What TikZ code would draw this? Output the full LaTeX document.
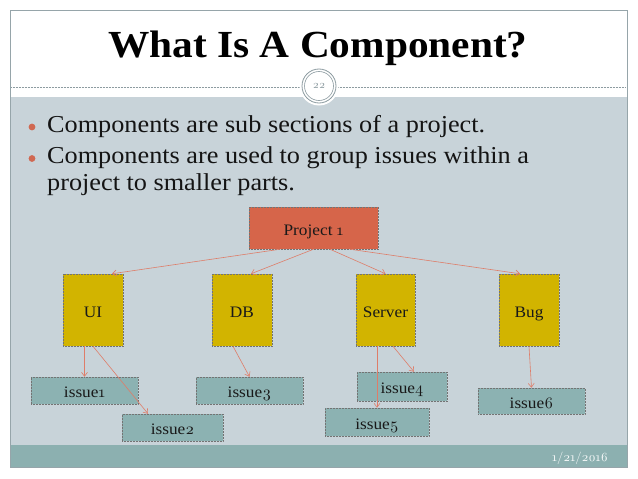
\documentclass[tikz,border=0pt]{standalone}
\usepackage{fontspec}
\setmainfont[FakeStretch=1.08]{Liberation Serif}
\newfontfamily\osf{lmroman10-regular.otf}[Numbers=OldStyle]
\usetikzlibrary{arrows.meta}
\definecolor{framegray}{RGB}{150,165,170}
\definecolor{bodybg}{RGB}{200,211,217}
\definecolor{bandteal}{RGB}{140,176,176}
\definecolor{issuefill}{RGB}{140,178,178}
\definecolor{projfill}{RGB}{214,101,74}
\definecolor{compfill}{RGB}{210,180,0}
\definecolor{linkcol}{RGB}{222,125,105}
\definecolor{bulletcol}{RGB}{208,104,82}
\definecolor{ringgray}{RGB}{140,155,160}
\tikzset{
  boxbase/.style={draw=black!55, densely dotted, line width=0.5pt, inner sep=0pt,
    text height=14pt, text depth=0pt,
    font=\fontsize{16}{17}\selectfont, text=black!90},
  projbox/.style={boxbase, fill=projfill, minimum width=129pt, minimum height=42pt},
  compbox/.style={boxbase, fill=compfill, minimum width=60pt, minimum height=72pt},
  issuebox/.style={boxbase, fill=issuefill, minimum height=27pt},
  link/.style={draw=linkcol, line width=0.6pt, -{Straight Barb[length=4pt,width=6pt]}},
  bullettext/.style={anchor=base west, inner sep=0pt, font=\fontsize{24.3}{27}\selectfont, text=black!92},
}
\begin{document}
\begin{tikzpicture}[x=1pt,y=-1pt]
\useasboundingbox (0,0) rectangle (638,479);
% slide background
\fill[white] (0,0) rectangle (638,479);
\fill[bodybg] (10,97) rectangle (627,445);
\fill[bandteal] (10,445) rectangle (627,467);
\draw[framegray, line width=0.8pt] (10,10) rectangle (627,467);
% title
\node[anchor=base, inner sep=0pt, font=\fontsize{38.3}{44}\selectfont\bfseries] (title) at (318,57) {What Is A Component?};
\draw[ringgray, densely dotted, line width=0.5pt] (11,87) -- (626,87);
\fill[white] (319,86) circle (19.5);
\draw[ringgray, line width=0.8pt] (319,86) circle (17);
\draw[ringgray, line width=0.6pt] (319,86) circle (14.5);
\node[inner sep=0pt, text=ringgray, font=\osf\fontsize{11}{12}\selectfont] (pagenum) at (319,86) {22};
% bullets
\fill[bulletcol] (32,127) circle (3.4);
\fill[bulletcol] (32,158.5) circle (3.4);
\node[bullettext] (b1) at (47,132) {Components are sub sections of a project.};
\node[bullettext] (b2) at (47,163) {Components are used to group issues within a};
\node[bullettext] (b3) at (47,190) {project to smaller parts.};
% diagram
\node[projbox] (p) at (313.5,228) {Project {\osf 1}};
\node[compbox] (ui) at (93,310) {UI};
\node[compbox] (db) at (242,310) {DB};
\node[compbox, minimum width=59pt] (sv) at (385.5,310) {Server};
\node[compbox] (bug) at (529,310) {Bug};
\node[issuebox, minimum width=107pt] (i1) at (84.5,390.5) {issue{\osf 1}};
\node[issuebox, minimum width=101pt] (i2) at (172.5,427.5) {issue{\osf 2}};
\node[issuebox, minimum width=107pt] (i3) at (249.5,390.5) {issue{\osf 3}};
\node[issuebox, minimum width=90pt, minimum height=29pt] (i4) at (402,386.5) {issue{\osf 4}};
\node[issuebox, minimum width=104pt, minimum height=28pt] (i5) at (377,422) {issue{\osf 5}};
\node[issuebox, minimum width=107pt, minimum height=26pt] (i6) at (531.5,401) {issue{\osf 6}};
% connectors
\draw[link] ([xshift=-33.5pt]p.south) -- ([xshift=19pt]ui.north);
\draw[link] (p.south) -- ([xshift=9pt]db.north);
\draw[link] ([xshift=16.5pt]p.south) -- (sv.north);
\draw[link] ([xshift=36.5pt]p.south) -- ([xshift=-9pt]bug.north);
\draw[link] (ui.south -| i1.north) -- (i1.north);
\draw[link] (ui.south) -- ([xshift=-24.5pt]i2.north);
\draw[link] ([xshift=-9pt]db.south) -- (i3.north);
\draw[link] ([xshift=7.5pt]sv.south) -- ([xshift=12pt]i4.north);
\draw[link] (sv.south -| i5.north) -- (i5.north);
\draw[link] (bug.south) -- (i6.north);
% footer date
\node[anchor=base east, inner sep=0pt, text=white!92!bandteal, font=\osf\fontsize{12.5}{14}\selectfont] (date) at (608,461) {1/21/2016};
\end{tikzpicture}
\end{document}
